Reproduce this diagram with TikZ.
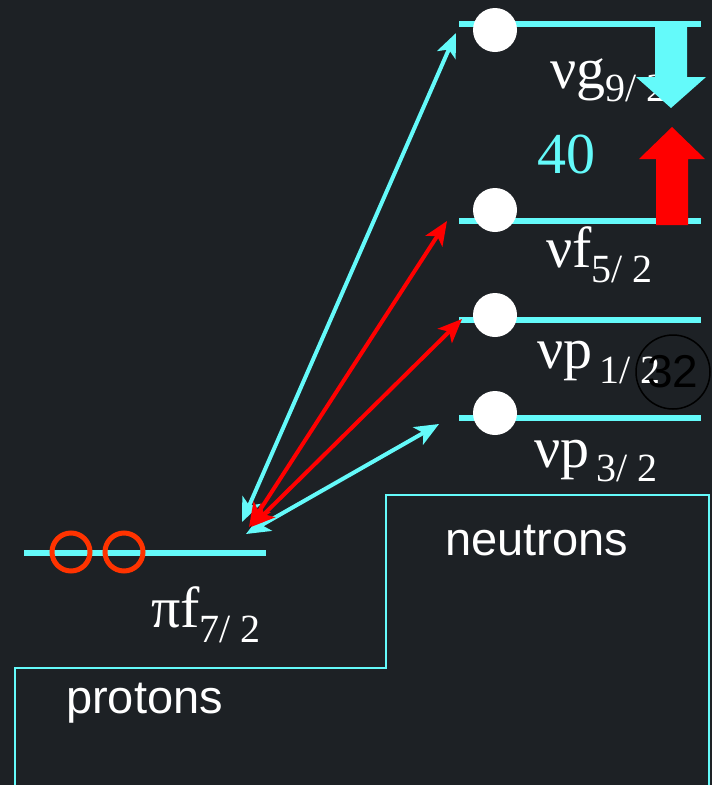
\documentclass[tikz,border=0pt]{standalone}
\usepackage{fontspec}
\setmainfont{Liberation Serif}
\newfontfamily\arialf{Liberation Sans}
\usetikzlibrary{arrows.meta}
\definecolor{bgc}{RGB}{29,33,37}
\definecolor{lcyan}{RGB}{100,250,250}
\definecolor{ored}{RGB}{255,51,0}
\tikzset{
  level/.style={draw=lcyan,line width=6pt},
  fermion/.style={circle,fill=white,draw=none,minimum size=44pt,inner sep=0pt},
  hole/.style={circle,draw=ored,line width=5pt,minimum size=38pt,inner sep=0pt},
  lvlabel/.style={anchor=base west,inner sep=0pt,text=white},
  sanslabel/.style={anchor=base west,inner sep=0pt,text=white,font=\arialf\fontsize{47}{47}\selectfont},
  excite/.style={line width=4pt,{Stealth[length=24pt,width=20pt,inset=6pt]}-{Stealth[length=24pt,width=20pt,inset=6pt]}},
  outline/.style={draw=lcyan,line width=2pt}
}
\newcommand{\lvtxt}[3]{{\fontsize{58}{58}\selectfont #1\raisebox{#3}{\fontsize{40}{40}\selectfont #2}}}
\begin{document}
\begin{tikzpicture}[x=1pt,y=-1pt]
\fill[bgc] (0,0) rectangle (712,785);
\useasboundingbox (0,0) rectangle (712,785);

% stair outline
\draw[outline] (15,785) -- (15,668) -- (386,668) -- (386,495) -- (709,495) -- (709,785);

% neutron levels
\draw[level] (459,24) coordinate (g1) -- (701,24) coordinate (g2);
\draw[level] (459,221) coordinate (f1) -- (701,221) coordinate (f2);
\draw[level] (459,320) coordinate (p1) -- (701,320) coordinate (p2);
\draw[level] (459,418) coordinate (q1) -- (701,418) coordinate (q2);
% proton level
\draw[level] (24,553) coordinate (pi1) -- (266,553) coordinate (pi2);

% labels
\node[lvlabel] (lg) at (550,88) {\lvtxt{νg}{9/ 2}{-13pt}};
\node[lvlabel] (lf) at (546,267) {\lvtxt{νf}{5/ 2}{-15pt}};
\node[lvlabel] (lp1) at (537,368) {\lvtxt{νp}{\,1/ 2}{-15pt}};
\node[lvlabel] (lp3) at (534,467) {\lvtxt{νp}{\,3/ 2}{-14pt}};
\node[lvlabel] (lpi) at (151,627) {\lvtxt{πf}{7/ 2}{-15pt}};
\node[lvlabel,text=lcyan] (n40) at (537,173) {\fontsize{58}{58}\selectfont 40};

% 32 circle
\node[circle,draw=black,line width=1.5pt,minimum size=74pt,inner sep=0pt,font=\arialf\fontsize{46}{46}\selectfont,text=black] (c32) at (673,372) {32};

% fermions
\node[fermion] (eg) at (495,30) {};
\node[fermion] (ef) at (495,210) {};
\node[fermion] (ep1) at (495,315) {};
\node[fermion] (ep3) at (495,413) {};
% holes
\node[hole] (h1) at (71,552) {};
\node[hole] (h2) at (124,552) {};

% excitation arrows
\coordinate (tg) at (456,33);
\coordinate (tf) at (447,221);
\coordinate (tp1) at (462,319);
\coordinate (tp3) at (439,424);
\coordinate (bg) at (242,522);
\coordinate (bf) at (249,527);
\coordinate (bp1) at (251,527);
\coordinate (bp3) at (246,534);
\draw[excite,lcyan] (bg) -- (tg);
\draw[excite,lcyan] (bp3) -- (tp3);
\draw[excite,red] (bf) -- (tf);
\draw[excite,red] (bp1) -- (tp1);

% big arrows
\fill[lcyan] (655,24) -- (687,24) -- (687,77) -- (706,77) -- (671,108) -- (636,77) -- (655,77) -- cycle;
\fill[red] (656,225) -- (688,225) -- (688,159) -- (705,159) -- (672,127) -- (639,159) -- (656,159) -- cycle;

% sans labels
\node[sanslabel] (neu) at (445,555) {neutrons};
\node[sanslabel] (pro) at (66,713) {protons};
\end{tikzpicture}
\end{document}
